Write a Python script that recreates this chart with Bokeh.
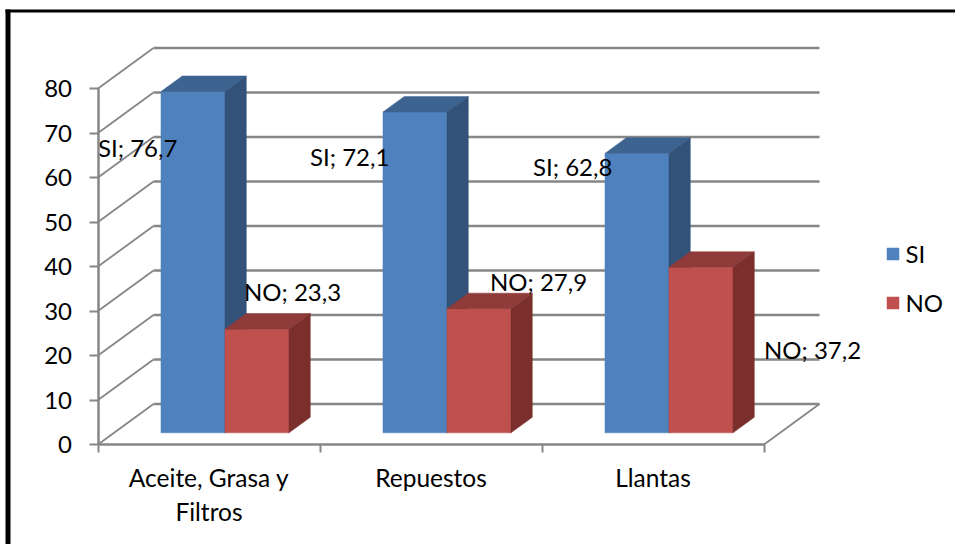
from bokeh.plotting import figure
from bokeh.embed import file_html
from bokeh.resources import INLINE
from bokeh.core.properties import value
from bokeh.models import (BoxAnnotation, ColumnDataSource, FixedTicker, Legend, LegendItem,
                          LinearAxis, Range1d)

categories = ["Aceite, Grasa y\nFiltros", "Repuestos", "Llantas"]
si_values = [76.7, 72.1, 62.8]
no_values = [23.3, 27.9, 37.2]
y_ticks = [0, 10, 20, 30, 40, 50, 60, 70, 80]

W, H = 955, 544
LEFT, BOTTOM = 97.5, 444
PX_CAT = 222.0
PX_UNIT = 4.45
DEPTH_X = 55.5 / PX_CAT
DEPTH_Y = 40.5 / PX_UNIT
T_FRONT, T_BACK = 0.288, 0.672
BAR_W = 64 / PX_CAT
GRID = "#868686"
FONT = "Lato"
FS = "24px"

p = figure(width=W, height=H, output_backend="svg", toolbar_location=None,
           x_range=Range1d(-LEFT / PX_CAT, (W - LEFT) / PX_CAT),
           y_range=Range1d((BOTTOM - H) / PX_UNIT, BOTTOM / PX_UNIT),
           min_border_left=0, min_border_right=0,
           min_border_top=0, min_border_bottom=0,
           x_axis_type=None, y_axis_type=None)
p.margin = (0, 0, 0, 0)
p.grid.visible = False
p.outline_line_color = None

ya = LinearAxis(ticker=FixedTicker(ticks=y_ticks), bounds=(0, 80), fixed_location=0)
ya.axis_line_color = GRID
ya.axis_line_width = 2.5
ya.major_tick_line_color = GRID
ya.major_tick_line_width = 2
ya.major_tick_in = 0
ya.major_tick_out = 9
ya.minor_tick_line_color = None
ya.major_label_standoff = 17
ya.major_label_text_font = FONT
ya.major_label_text_font_size = FS
ya.major_label_text_color = "#000000"
p.add_layout(ya, "left")

n = len(categories)
xa = LinearAxis(ticker=FixedTicker(ticks=[i + 0.5 for i in range(n)],
                                   minor_ticks=list(range(n + 1))),
                bounds=(0, n), fixed_location=0)
xa.major_label_overrides = {i + 0.5: c for i, c in enumerate(categories)}
xa.axis_line_color = GRID
xa.axis_line_width = 2.5
xa.major_tick_line_color = None
xa.major_tick_in = 0
xa.major_tick_out = 0
xa.minor_tick_line_color = GRID
xa.minor_tick_line_width = 2
xa.minor_tick_in = 0
xa.minor_tick_out = 8
xa.major_label_standoff = 10
xa.major_label_text_font = FONT
xa.major_label_text_font_size = "24.5px"
xa.major_label_text_color = "#000000"
p.add_layout(xa, "below")

# Side wall, back wall and floor edge
p.multi_line(xs=[[0, DEPTH_X] for _ in y_ticks],
             ys=[[t, t + DEPTH_Y] for t in y_ticks],
             line_color=GRID, line_width=1.8)
p.multi_line(xs=[[DEPTH_X, n + DEPTH_X] for _ in y_ticks],
             ys=[[t + DEPTH_Y, t + DEPTH_Y] for t in y_ticks],
             line_color=GRID, line_width=2.5)
p.line([n, n + DEPTH_X], [0, DEPTH_Y], line_color=GRID, line_width=1.8)


def proj(x, y, t):
    return x + t * DEPTH_X, y + t * DEPTH_Y


def faces(x0, x1, v):
    a = [proj(x0, 0, T_FRONT), proj(x1, 0, T_FRONT), proj(x1, v, T_FRONT), proj(x0, v, T_FRONT)]
    b = [proj(x0, v, T_FRONT), proj(x1, v, T_FRONT), proj(x1, v, T_BACK), proj(x0, v, T_BACK)]
    c = [proj(x1, 0, T_FRONT), proj(x1, 0, T_BACK), proj(x1, v, T_BACK), proj(x1, v, T_FRONT)]
    return a, b, c


def draw_bar(x0, x1, v, colors):
    rs = []
    for face, col in zip(faces(x0, x1, v), colors):
        rs.append(p.patch([q[0] for q in face], [q[1] for q in face],
                          fill_color=col, line_color=col, line_width=0.5))
    return rs[0]


SI_COLS = ("#4F81BD", "#3D6391", "#335279")
NO_COLS = ("#C0504D", "#8E3B39", "#7A2F2D")
si_r = no_r = None
for i in range(n):
    si_r = draw_bar(i + 0.5 - BAR_W, i + 0.5, si_values[i], SI_COLS)
    no_r = draw_bar(i + 0.5, i + 0.5 + BAR_W, no_values[i], NO_COLS)

# Data labels, placed relative to the top-left corner of each bar's front face
si_dx, si_dy = [-63, -73, -72], [56, 45, 13]
no_dx, no_dy = [19, 43, 95], [-38, -27, 82]


def labels(name, vals, start, dx, dy):
    src = ColumnDataSource(dict(
        x=[proj(i + start, 0, T_FRONT)[0] for i in range(n)],
        y=[proj(0, v, T_FRONT)[1] for v in vals],
        t=[f"{name}; {v}".replace(".", ",") for v in vals],
        dx=dx, dy=dy))
    p.text("x", "y", text="t", source=src, x_offset="dx", y_offset="dy",
           text_font=value(FONT), text_font_size=value(FS), text_color="#000000",
           text_align="left", text_baseline="middle")


labels("SI", si_values, 0.5 - BAR_W, si_dx, si_dy)
labels("NO", no_values, 0.5, no_dx, no_dy)

legend = Legend(items=[LegendItem(label="SI", renderers=[si_r]),
                       LegendItem(label="NO", renderers=[no_r])],
                location=(884.5, H - 317), orientation="vertical")
legend.background_fill_alpha = 0
legend.border_line_color = None
legend.padding = 0
legend.margin = 0
legend.glyph_width = 15
legend.glyph_height = 15
legend.label_standoff = 6
legend.spacing = 20
legend.label_text_font = FONT
legend.label_text_font_size = FS
legend.label_text_color = "#000000"
legend.label_height = 28
p.add_layout(legend, "center")

# Black frame along the left and top of the picture
for l, r, t, b in [(5, 10, 9, H), (5, W, 9, 12)]:
    p.add_layout(BoxAnnotation(left=l, right=r, top=t, bottom=b,
                               left_units="canvas", right_units="canvas",
                               top_units="canvas", bottom_units="canvas",
                               fill_color="#000000", fill_alpha=1, line_color=None,
                               editable=False))

open("out.html", "w").write(file_html(p, INLINE))
